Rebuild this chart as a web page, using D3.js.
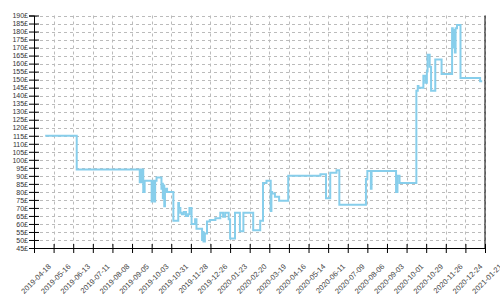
<!DOCTYPE html>
<html>
<head>
<meta charset="utf-8">
<script src="https://cdn.jsdelivr.net/npm/d3@7"></script>
<style>
  body { margin: 0; background: #fff; }
  text { font-family: "Liberation Sans", Arial, sans-serif; }
</style>
</head>
<body>
<div id="chart"></div>
<script>
// price history (step changes)
var dates = ["2019-05-04","2019-06-18","2019-09-16","2019-09-17","2019-09-19","2019-09-20","2019-09-21","2019-09-23",
  "2019-10-03","2019-10-04","2019-10-05","2019-10-06","2019-10-07","2019-10-08","2019-10-10","2019-10-17","2019-10-18",
  "2019-10-19","2019-10-20","2019-10-21","2019-10-22","2019-10-23","2019-10-25","2019-11-03","2019-11-10","2019-11-11",
  "2019-11-13","2019-11-15","2019-11-18","2019-11-21","2019-11-24","2019-11-26","2019-11-29","2019-12-04","2019-12-06",
  "2019-12-14","2019-12-15","2019-12-16","2019-12-18","2019-12-21","2019-12-25","2020-01-02","2020-01-09","2020-01-13",
  "2020-01-16","2020-01-21","2020-01-23","2020-01-30","2020-02-06","2020-02-11","2020-02-25","2020-03-06","2020-03-10",
  "2020-03-15","2020-03-21","2020-03-22","2020-03-23","2020-03-27","2020-04-02","2020-04-15","2020-05-31","2020-06-08",
  "2020-06-14","2020-06-23","2020-06-27","2020-08-04","2020-08-06","2020-08-11","2020-08-12","2020-09-16","2020-09-18",
  "2020-09-21","2020-10-15","2020-10-17","2020-10-18","2020-10-25","2020-10-28","2020-10-30","2020-10-31","2020-11-03",
  "2020-11-05","2020-11-11","2020-11-20","2020-12-05","2020-12-06","2020-12-07","2020-12-09","2020-12-10","2020-12-12",
  "2020-12-17","2021-01-14","2021-01-17"];
var prices = [115,94,86,94,86,94,80,87,
  74,86,75,87,74,87,89,82,85,
  76,84,71,80,82,80,62,73,70,
  67,66,67.5,65,66,70,60,63,57,
  50,55,49,54,61.5,62.5,63.5,67,64.5,
  67,63,51,67,55.5,67,56,62,85.5,
  87,68,80,79,77,74.5,90,91,76,
  92,93.5,72,88,93,82,93,80,90,
  85.5,143,146,145,152.5,148,155,165.5,158,
  143,162.5,153.5,182,170,181,167,182,184,
  151,149,149];

var xTicks = ["2019-04-18","2019-05-16","2019-06-13","2019-07-11","2019-08-08","2019-09-05","2019-10-03","2019-10-31",
  "2019-11-28","2019-12-26","2020-01-23","2020-02-20","2020-03-19","2020-04-16","2020-05-14","2020-06-11","2020-07-09",
  "2020-08-06","2020-09-03","2020-10-01","2020-10-29","2020-11-26","2020-12-24","2021-01-21"];
var yTicks = d3.range(45, 191, 5);

var width = 500, height = 300;
var margin = { top: 15.5, right: 15, bottom: 52, left: 34 };

var parse = d3.timeParse("%Y-%m-%d");
var data = dates.map(function(d, i) { return { date: parse(d), price: prices[i] }; });
var tickDates = xTicks.map(parse);

var x = d3.scaleTime()
  .domain([tickDates[0], tickDates[tickDates.length - 1]])
  .range([margin.left, width - margin.right]);
var y = d3.scaleLinear()
  .domain([45, 190])
  .range([height - margin.bottom, margin.top]);

var svg = d3.select("#chart").append("svg")
  .attr("width", width)
  .attr("height", height);

// grid
svg.append("g").selectAll("line.v")
  .data(tickDates).enter().append("line")
  .attr("x1", d => Math.round(x(d)) + 0.5).attr("x2", d => Math.round(x(d)) + 0.5)
  .attr("y1", y(190)).attr("y2", y(45))
  .attr("stroke", "#bbb").attr("stroke-dasharray", "3,3");
svg.append("g").selectAll("line.h")
  .data(yTicks).enter().append("line")
  .attr("x1", margin.left).attr("x2", width - margin.right)
  .attr("y1", d => Math.round(y(d)) + 0.5).attr("y2", d => Math.round(y(d)) + 0.5)
  .attr("stroke", "#bbb").attr("stroke-dasharray", "3,3");

// price line
var line = d3.line()
  .curve(d3.curveStepAfter)
  .x(d => x(d.date))
  .y(d => y(d.price));

svg.append("path")
  .datum(data)
  .attr("fill", "none")
  .attr("stroke", "#87ceeb")
  .attr("stroke-width", 2)
  .attr("d", line);

// axes
var yAxis = svg.append("g")
  .attr("transform", "translate(" + margin.left + ",0)")
  .call(d3.axisLeft(y).tickValues(yTicks).tickSize(5).tickFormat(d => d + "£"));
yAxis.selectAll(".tick line").attr("x2", 5).attr("x1", -5).attr("stroke-width", 1);
yAxis.selectAll("text").attr("x", -6).style("font-size", "7px").attr("fill", "#333");

var xAxis = svg.append("g")
  .attr("transform", "translate(0," + (height - margin.bottom) + ")")
  .call(d3.axisBottom(x).tickValues(tickDates).tickSizeOuter(0).tickFormat(d3.timeFormat("%Y-%m-%d")));
xAxis.selectAll(".tick line").attr("y1", -4).attr("y2", 5);
xAxis.selectAll("text")
  .style("font-size", "7.5px")
  .attr("fill", "#444")
  .style("text-anchor", "end")
  .attr("y", 0).attr("dy", 0)
  .attr("transform", "translate(17,19) rotate(-45)");

svg.selectAll(".domain").attr("stroke", "#000");

// right border
svg.append("line")
  .attr("x1", width - margin.right).attr("x2", width - margin.right)
  .attr("y1", y(190)).attr("y2", y(45))
  .attr("stroke", "#000");
</script>
</body>
</html>
